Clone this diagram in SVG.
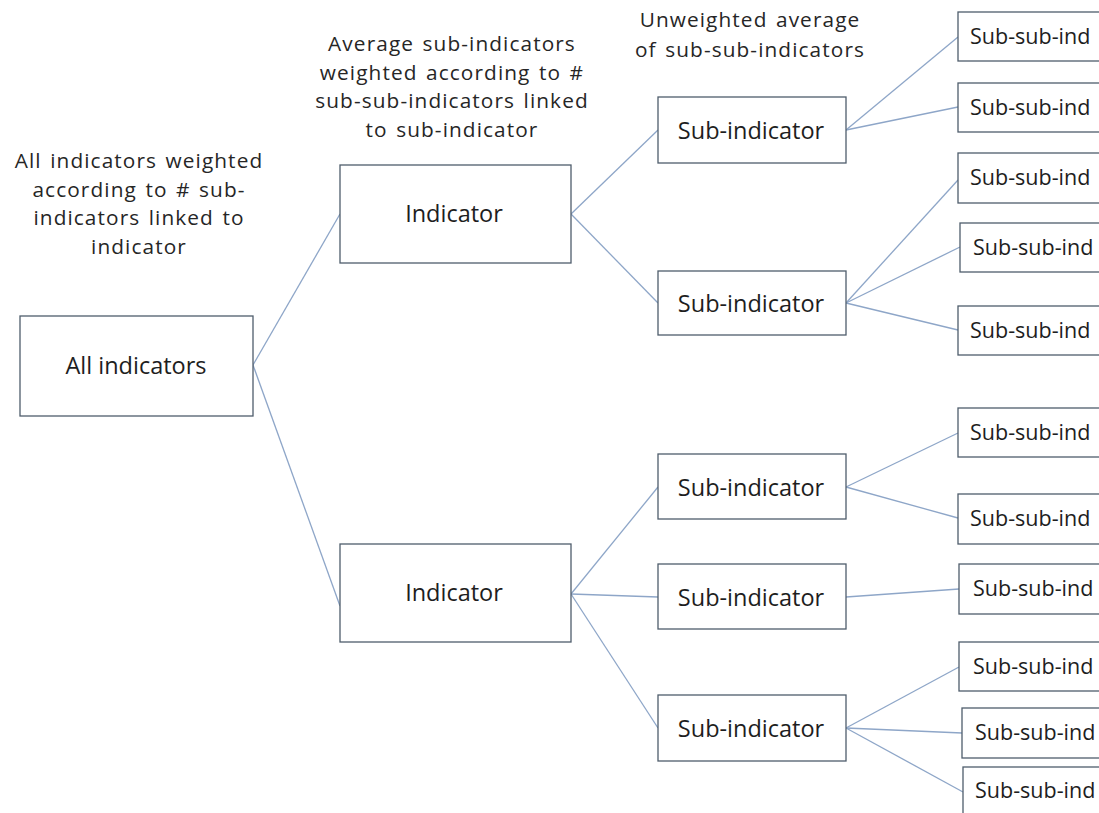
<svg xmlns="http://www.w3.org/2000/svg" width="1099" height="813" viewBox="0 0 1099 813">
<style>
.box{fill:#ffffff;stroke:#4f5d6c;stroke-width:1.3}
.lbl{font-family:"Open Sans","Noto Sans",sans-serif;font-size:23.5px;fill:#1e1e1e;text-anchor:middle}
.ss{font-family:"Open Sans","Noto Sans",sans-serif;font-size:21.5px;fill:#1e1e1e}
.ann{font-family:"Open Sans","Noto Sans",sans-serif;font-size:20.8px;letter-spacing:1.1px;word-spacing:2px;fill:#262626;text-anchor:middle}
.con{stroke:#8ea6c8;stroke-width:1.3;fill:none}
</style>
<rect width="1099" height="813" fill="#ffffff"/>
<g id="annotations">
<text id="ann-all" class="ann" x="139" y="168"><tspan x="139" y="168">All indicators weighted</tspan><tspan x="139" dy="28.5">according to # sub-</tspan><tspan x="139" dy="28.5">indicators linked to</tspan><tspan x="139" dy="28.5">indicator</tspan></text>
<text id="ann-ind" class="ann" x="452" y="51"><tspan x="452" y="51">Average sub-indicators</tspan><tspan x="452" dy="28.5">weighted according to #</tspan><tspan x="452" dy="28.5">sub-sub-indicators linked</tspan><tspan x="452" dy="28.5">to sub-indicator</tspan></text>
<text id="ann-sub" class="ann" x="750" y="27"><tspan x="750" y="27">Unweighted average</tspan><tspan x="750" dy="29.5">of sub-sub-indicators</tspan></text>
</g>
<g id="connectors">
<line class="con" x1="253" y1="365" x2="340" y2="214"/>
<line class="con" x1="253" y1="365" x2="340" y2="606"/>
<line class="con" x1="571" y1="214" x2="658" y2="130"/>
<line class="con" x1="571" y1="214" x2="658" y2="303"/>
<line class="con" x1="571" y1="594" x2="658" y2="487"/>
<line class="con" x1="571" y1="594" x2="658" y2="597"/>
<line class="con" x1="571" y1="594" x2="658" y2="728"/>
<line class="con" x1="846" y1="130" x2="958" y2="37"/>
<line class="con" x1="846" y1="130" x2="958" y2="107"/>
<line class="con" x1="846" y1="303" x2="958" y2="180"/>
<line class="con" x1="846" y1="303" x2="960" y2="247"/>
<line class="con" x1="846" y1="303" x2="958" y2="330"/>
<line class="con" x1="846" y1="487" x2="958" y2="433"/>
<line class="con" x1="846" y1="487" x2="958" y2="518"/>
<line class="con" x1="846" y1="597" x2="959" y2="589"/>
<line class="con" x1="846" y1="728" x2="959" y2="667"/>
<line class="con" x1="846" y1="728" x2="962" y2="733"/>
<line class="con" x1="846" y1="728" x2="963" y2="792"/>
</g>
<g id="all-indicators"><rect class="box" x="20" y="316" width="233" height="100"/><text class="lbl" x="136" y="374">All indicators</text></g>
<g id="indicator-1"><rect class="box" x="340" y="165" width="231" height="98"/><text class="lbl" x="454" y="222">Indicator</text></g>
<g id="indicator-2"><rect class="box" x="340" y="544" width="231" height="98"/><text class="lbl" x="454" y="601">Indicator</text></g>
<g id="sub-1"><rect class="box" x="658" y="97" width="188" height="66"/><text class="lbl" x="751" y="139">Sub-indicator</text></g>
<g id="sub-2"><rect class="box" x="658" y="271" width="188" height="64"/><text class="lbl" x="751" y="312">Sub-indicator</text></g>
<g id="sub-3"><rect class="box" x="658" y="454" width="188" height="65"/><text class="lbl" x="751" y="496">Sub-indicator</text></g>
<g id="sub-4"><rect class="box" x="658" y="564" width="188" height="65"/><text class="lbl" x="751" y="606">Sub-indicator</text></g>
<g id="sub-5"><rect class="box" x="658" y="695" width="188" height="66"/><text class="lbl" x="751" y="737">Sub-indicator</text></g>
<g id="subsub-1"><rect class="box" x="958" y="12" width="160" height="49"/><text class="ss" x="970" y="44">Sub-sub-ind</text></g>
<g id="subsub-2"><rect class="box" x="958" y="83" width="160" height="49"/><text class="ss" x="970" y="115">Sub-sub-ind</text></g>
<g id="subsub-3"><rect class="box" x="958" y="153" width="160" height="50"/><text class="ss" x="970" y="185">Sub-sub-ind</text></g>
<g id="subsub-4"><rect class="box" x="960" y="223" width="160" height="49"/><text class="ss" x="973" y="255">Sub-sub-ind</text></g>
<g id="subsub-5"><rect class="box" x="958" y="306" width="160" height="49"/><text class="ss" x="970" y="338">Sub-sub-ind</text></g>
<g id="subsub-6"><rect class="box" x="958" y="408" width="160" height="49"/><text class="ss" x="970" y="440">Sub-sub-ind</text></g>
<g id="subsub-7"><rect class="box" x="958" y="494" width="160" height="50"/><text class="ss" x="970" y="526">Sub-sub-ind</text></g>
<g id="subsub-8"><rect class="box" x="959" y="564" width="160" height="50"/><text class="ss" x="973" y="596">Sub-sub-ind</text></g>
<g id="subsub-9"><rect class="box" x="959" y="642" width="160" height="49"/><text class="ss" x="973" y="674">Sub-sub-ind</text></g>
<g id="subsub-10"><rect class="box" x="962" y="708" width="160" height="50"/><text class="ss" x="975" y="740">Sub-sub-ind</text></g>
<g id="subsub-11"><rect class="box" x="963" y="767" width="160" height="60"/><text class="ss" x="975" y="798">Sub-sub-ind</text></g>
</svg>
